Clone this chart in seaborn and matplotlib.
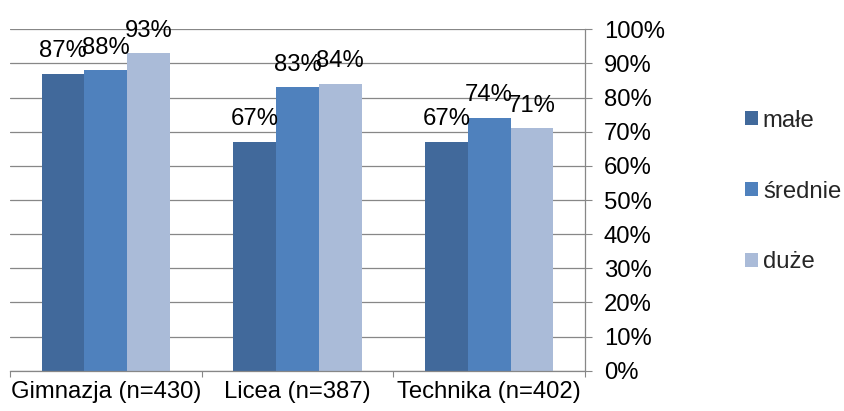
import matplotlib
matplotlib.use("Agg")
import matplotlib.pyplot as plt
import seaborn as sns
import pandas as pd
from matplotlib.ticker import FixedLocator, FuncFormatter

categories = ["Gimnazja (n=430)", "Licea (n=387)", "Technika (n=402)"]
series = ["małe", "średnie", "duże"]
male = [87, 67, 67]
srednie = [88, 83, 74]
duze = [93, 84, 71]
y_ticks = [0, 10, 20, 30, 40, 50, 60, 70, 80, 90, 100]

colors = ["#41699B", "#4F81BD", "#AABBD8"]

rows = []
for s, vals in zip(series, [male, srednie, duze]):
    for c, v in zip(categories, vals):
        rows.append({"kategoria": c, "typ": s, "wartosc": v})
df = pd.DataFrame(rows)

sns.set_theme(style="white")
plt.rcParams["font.family"] = ["Liberation Sans", "DejaVu Sans"]
FS = 17.2

fig = plt.figure(figsize=(8.44, 4.11), dpi=100)
ax = fig.add_axes([10 / 844, 1 - 370.7 / 411, 575 / 844, (370.7 - 29.3) / 411])

sns.barplot(data=df, x="kategoria", y="wartosc", hue="typ", order=categories,
            hue_order=series, palette=colors, width=0.668, saturation=1,
            edgecolor="none", linewidth=0, ax=ax, legend=True)

ax.set_xlim(-0.5, 2.5)
ax.set_ylim(0, 100.01)
ax.set_xlabel("")
ax.set_ylabel("")

# data labels
for cont in ax.containers:
    for bar in cont:
        h = bar.get_height()
        ax.annotate(f"{h:.0f}%", (bar.get_x() + bar.get_width() / 2, h),
                    xytext=(0, 12.0), textcoords="offset points",
                    ha="center", va="baseline", fontsize=FS, color="black",
                    annotation_clip=False)

# y axis on the right
ax.yaxis.tick_right()
ax.yaxis.set_major_locator(FixedLocator(y_ticks))
ax.yaxis.set_major_formatter(FuncFormatter(lambda v, p: f"{v:.0f}%"))
ax.tick_params(axis="y", which="major", direction="out", length=5, width=0.8,
               color="#878787", pad=8.5, labelsize=FS, labelcolor="black",
               right=True, left=False)
ax.yaxis.grid(True, color="#878787", linewidth=0.9)
ax.set_axisbelow(True)

# x axis: labels at centres, ticks at boundaries
ax.set_xticks([0, 1, 2])
ax.set_xticklabels(categories)
ax.set_xticks([-0.5, 0.5, 1.5, 2.5], minor=True)
ax.tick_params(axis="x", which="major", length=0, pad=7.5, labelsize=FS,
               labelcolor="black")
ax.tick_params(axis="x", which="minor", direction="out", length=4.5,
               width=0.8, color="#878787", bottom=True)

for side in ["top", "left"]:
    ax.spines[side].set_visible(False)
for side in ["right", "bottom"]:
    ax.spines[side].set_visible(True)
    ax.spines[side].set_color("#878787")
    ax.spines[side].set_linewidth(0.9)

sns.move_legend(ax, loc="center left", bbox_to_anchor=(745 / 844, 1 - 191.5 / 411),
                bbox_transform=fig.transFigure, frameon=False, title=None,
                fontsize=FS, handlelength=0.55, handleheight=0.55,
                handletextpad=0.2, labelspacing=2.05, borderpad=0,
                borderaxespad=0)

fig.savefig("out.png", dpi=100)
